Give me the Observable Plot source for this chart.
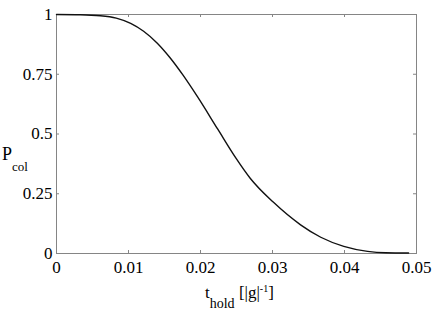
<!DOCTYPE html>
<html><head><meta charset="utf-8">
<script src="https://cdn.jsdelivr.net/npm/d3@7"></script>
<script src="https://cdn.jsdelivr.net/npm/@observablehq/plot@0.6"></script>
<style>body{margin:0;background:#fff} svg text{font-family:"Liberation Serif","Times New Roman",serif}</style>
</head><body><div id="chart"></div>
<script>
const tHold = [0, 0.0033, 0.0061, 0.0083, 0.0103, 0.0121, 0.0140, 0.0158, 0.0176, 0.0196, 0.0224, 0.0249, 0.0269, 0.0301, 0.0339, 0.0367, 0.0399, 0.0432, 0.0457, 0.0489];
const pCol  = [1, 0.999, 0.995, 0.985, 0.963, 0.930, 0.880, 0.818, 0.745, 0.655, 0.520, 0.400, 0.315, 0.215, 0.120, 0.068, 0.030, 0.009, 0.003, 0.002];
const xTicks = [0, 0.01, 0.02, 0.03, 0.04, 0.05];
const xTickLabels = ["0", "0.01", "0.02", "0.03", "0.04", "0.05"];
const yTicks = [0, 0.25, 0.5, 0.75, 1];
const yTickLabels = ["0", "0.25", "0.5", "0.75", "1"];

const data = tHold.map((x, i) => ({x, y: pCol[i]}));
const W = 436, H = 312, mL = 56, mR = 20, mT = 14, mB = 59;
const pw = W - mL - mR, ph = H - mT - mB;
const font = "Liberation Serif, Times New Roman, serif";
const grey = "#858585";

const chart = Plot.plot({
  width: W, height: H,
  marginLeft: mL, marginRight: mR, marginTop: mT, marginBottom: mB,
  style: {background: "#fff", color: "#000", fontFamily: font, fontSize: "17px"},
  x: {domain: [0, 0.05]},
  y: {domain: [0, 1]},
  marks: [
    Plot.frame({stroke: grey}),
    Plot.tickX(xTicks, {x: d => d, stroke: grey, insetTop: ph - 3}),
    Plot.tickX(xTicks, {x: d => d, stroke: grey, insetBottom: ph - 3}),
    Plot.tickY(yTicks, {y: d => d, stroke: grey, insetRight: pw - 3}),
    Plot.tickY(yTicks, {y: d => d, stroke: grey, insetLeft: pw - 3}),
    Plot.axisX(xTicks, {tickSize: 0, tickPadding: 7, label: null, fill: "#000",
      fontFamily: font, fontSize: 17,
      tickFormat: d => xTickLabels[xTicks.indexOf(d)]}),
    Plot.axisY(yTicks, {tickSize: 0, tickPadding: 4, label: null, fill: "#000",
      fontFamily: font, fontSize: 17,
      tickFormat: d => yTickLabels[yTicks.indexOf(d)]}),
    Plot.line(data, {x: "x", y: "y", stroke: "#111", strokeWidth: 1.4, curve: "monotone-x"})
  ]
});

const svg = d3.select(chart);
svg.attr("font-family", font).attr("font-size", 17);
svg.selectAll("text").attr("font-family", font).style("font-family", font).style("font-size", "17px");

const xl = svg.append("text").attr("x", 205).attr("y", 298).attr("text-anchor", "start")
  .attr("font-family", font).attr("font-size", 17).attr("fill", "#000");
xl.append("tspan").text("t");
xl.append("tspan").attr("font-size", 14).attr("dy", 10).text("hold");
xl.append("tspan").attr("dy", -10).text(" [|g|");
xl.append("tspan").attr("font-size", 10).attr("dy", -6).text("-1");
xl.append("tspan").attr("dy", 6).text("]");

const yl = svg.append("text").attr("x", 2).attr("y", 160).attr("text-anchor", "start")
  .attr("font-family", font).attr("font-size", 18).attr("fill", "#000");
yl.append("tspan").text("P");
yl.append("tspan").attr("font-size", 13).attr("dy", 11).text("col");

document.getElementById("chart").appendChild(chart);
</script>
</body></html>
